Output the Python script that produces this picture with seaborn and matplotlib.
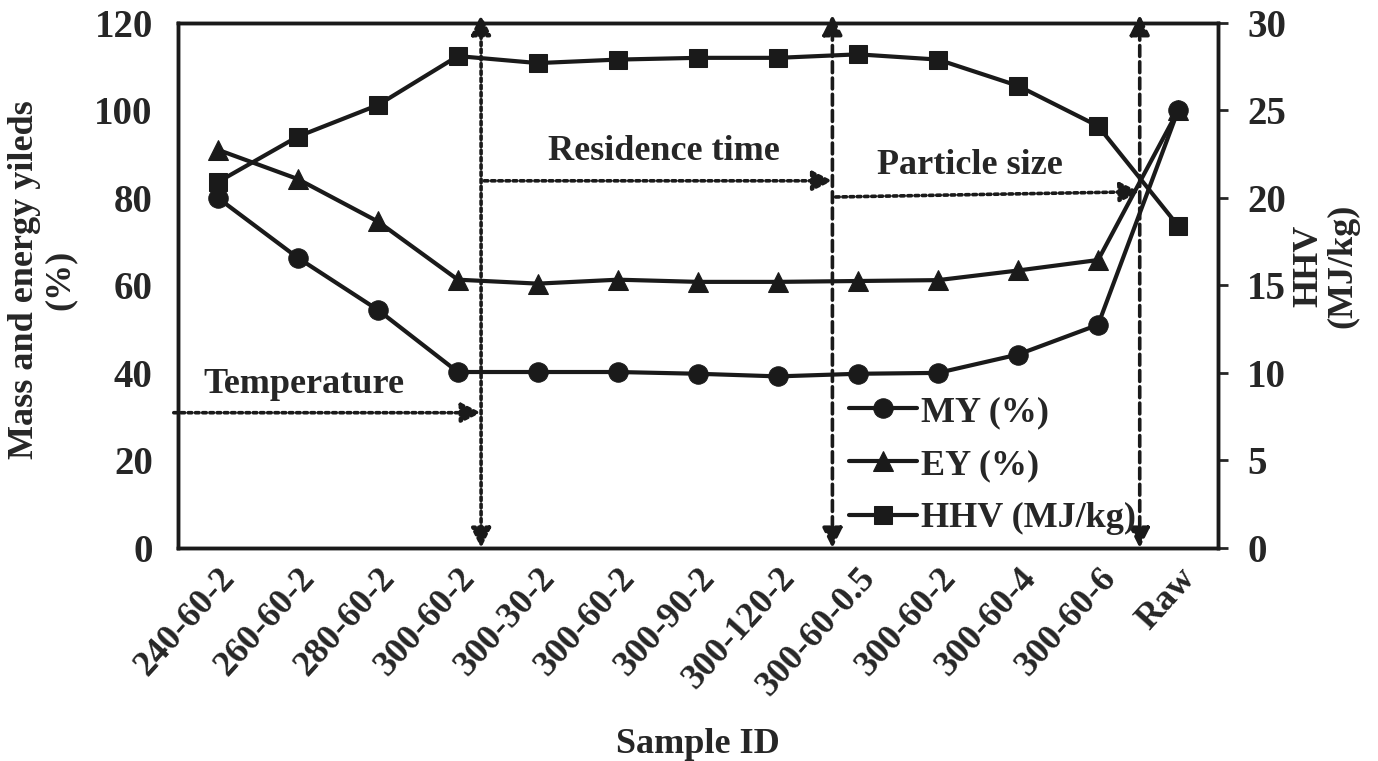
import numpy as np
import matplotlib
matplotlib.use("Agg")
import matplotlib.pyplot as plt
import seaborn as sns

# data
sample_ids = ["240-60-2", "260-60-2", "280-60-2", "300-60-2", "300-30-2", "300-60-2",
              "300-90-2", "300-120-2", "300-60-0.5", "300-60-2", "300-60-4", "300-60-6", "Raw"]
my_pct = [80.0, 66.3, 54.4, 40.2, 40.2, 40.2, 39.8, 39.2, 39.8, 40.0, 44.2, 51.0, 100.0]
ey_pct = [91.0, 84.3, 74.6, 61.3, 60.4, 61.3, 60.8, 60.8, 61.0, 61.2, 63.4, 65.8, 100.0]
hhv = [20.9, 23.5, 25.3, 28.1, 27.7, 27.9, 28.0, 28.0, 28.2, 27.9, 26.4, 24.1, 18.4]

sns.set_style("white")
plt.rcParams["font.family"] = ["Liberation Serif", "DejaVu Serif"]
plt.rcParams["font.weight"] = "bold"
plt.rcParams["axes.labelweight"] = "bold"

fs = 26
x = np.arange(len(sample_ids))

fig = plt.figure(figsize=(13.78, 7.61), dpi=100)
ax = fig.add_axes([0.129, 0.280, 0.755, 0.690])
ax2 = ax.twinx()

line_kw = dict(color="#1a1a1a", linewidth=3.0, markersize=14, markeredgecolor="#1a1a1a")
sns.lineplot(x=x, y=my_pct, ax=ax, marker="o", label="MY (%)", **line_kw)
sns.lineplot(x=x, y=ey_pct, ax=ax, marker="^", label="EY (%)", **line_kw)
sns.lineplot(x=x, y=hhv, ax=ax2, marker="s", label="HHV (MJ/kg)",
             **{**line_kw, "markersize": 13})
ax.get_legend().remove()
ax2.get_legend().remove()

ax.set_xlim(-0.5, len(sample_ids) - 0.5)
ax.set_ylim(0, 120)
ax2.set_ylim(0, 30)
ax.set_yticks(np.arange(0, 121, 20))
ax2.set_yticks(np.arange(0, 31, 5))
ax.set_xticks(x)
ax.set_xticklabels(sample_ids, rotation=48, ha="right", rotation_mode="anchor",
                   fontsize=fs, fontweight="bold")
ax.tick_params(axis="x", length=0, pad=10)
ax.tick_params(axis="y", length=0, labelsize=28, pad=18)
ax2.tick_params(axis="y", length=7, width=2, direction="out", labelsize=28, pad=14)
for t in ax.get_yticklabels() + ax2.get_yticklabels():
    t.set_fontweight("bold")

for a in (ax, ax2):
    for s in a.spines.values():
        s.set_linewidth(2.5)
        s.set_color("#1a1a1a")

ax.set_xlabel("Sample ID", fontsize=fs, fontweight="bold", labelpad=18)
ax.set_ylabel("Mass and energy yileds\n(%)", fontsize=fs, fontweight="bold", linespacing=1.1)
ax.yaxis.set_label_coords(-0.097, 0.51)
ax2.set_ylabel("HHV\n(MJ/kg)", fontsize=fs, fontweight="bold", rotation=90, linespacing=1.05)
ax2.yaxis.set_label_coords(1.071, 0.537)

# section dividers and arrows
dot = (0, (1, 1))
dash = (0, (3, 1.5))
for xv, ls in [(3.29, dot), (7.68, dash), (11.52, dash)]:
    ax.annotate("", xy=(xv, 121.8), xytext=(xv, 0.0),
                arrowprops=dict(arrowstyle="<|-|>", mutation_scale=30, lw=2.6,
                                linestyle=ls, color="#1a1a1a", shrinkA=0, shrinkB=0),
                annotation_clip=False)

for (x0, y0, x1, y1) in [(-0.55, 30.9, 3.29, 30.9), (3.33, 83.9, 7.68, 83.9),
                         (7.72, 80.2, 11.52, 81.4)]:
    ax.annotate("", xy=(x1, y1), xytext=(x0, y0),
                arrowprops=dict(arrowstyle="-|>", mutation_scale=30, lw=2.6,
                                linestyle=dot, color="#1a1a1a", shrinkA=0, shrinkB=0),
                annotation_clip=False)

ax.text(1.07, 37.3, "Temperature", fontsize=fs, fontweight="bold", ha="center", va="center")
ax.text(5.57, 90.5, "Residence time", fontsize=fs, fontweight="bold", ha="center", va="center")
ax.text(9.4, 87.5, "Particle size", fontsize=fs, fontweight="bold", ha="center", va="center")

handles = ax.get_lines()[:2] + ax2.get_lines()[:1]
labels = ["MY (%)", "EY (%)", "HHV (MJ/kg)"]
leg = ax2.legend(handles, labels, loc="upper left", bbox_to_anchor=(0.645, 0.29),
                 frameon=False, fontsize=fs, handlelength=1.9, handletextpad=0.1,
                 labelspacing=0.55, borderaxespad=0, borderpad=0)
for t in leg.get_texts():
    t.set_fontweight("bold")

fig.savefig("out.png", dpi=100)
